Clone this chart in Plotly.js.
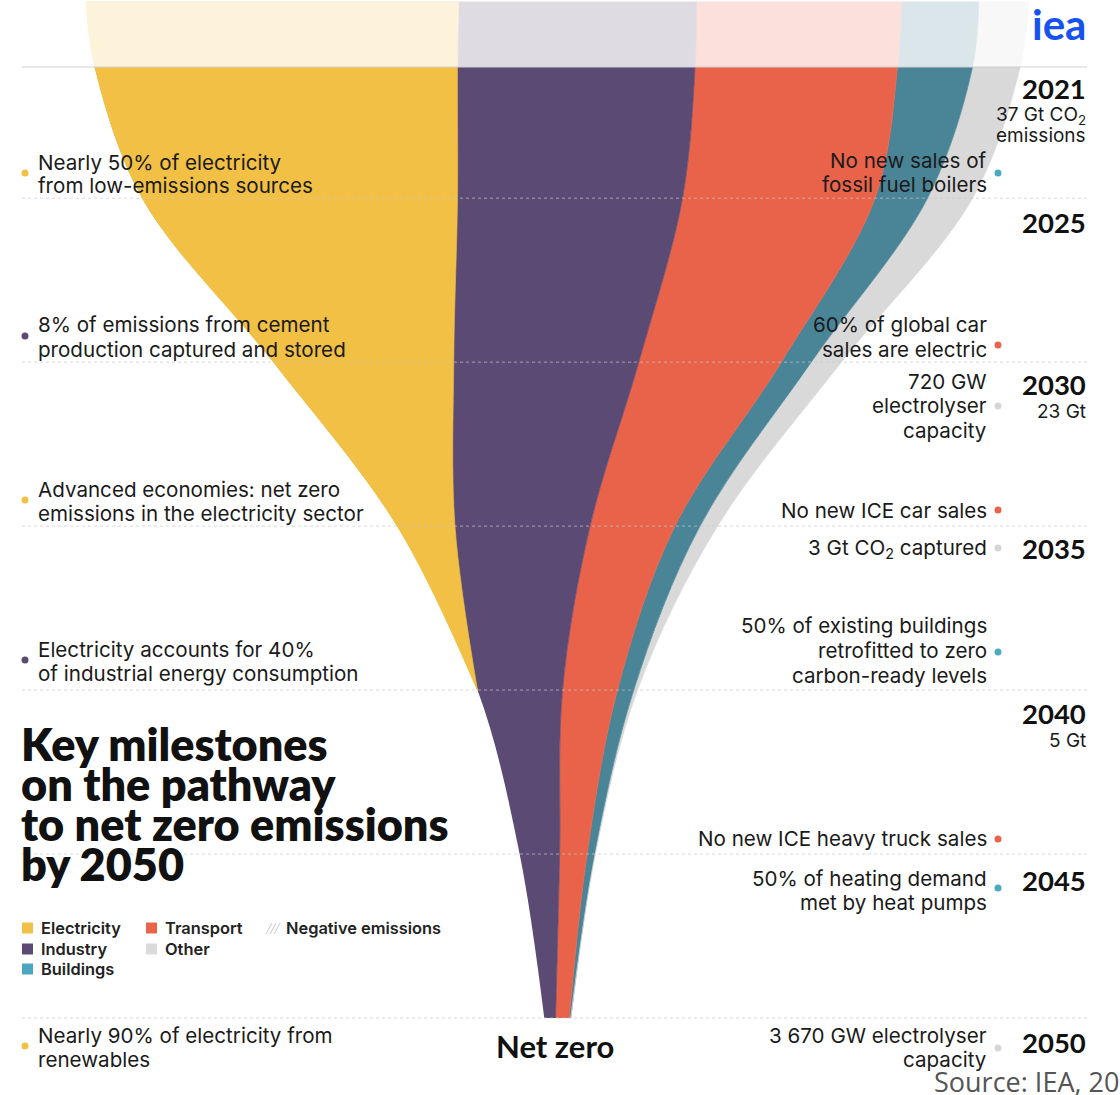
<!DOCTYPE html>
<html><head><meta charset="utf-8">
<script src="https://cdn.plot.ly/plotly-3.0.1.min.js"></script>
<style>html,body{margin:0;padding:0;background:#fff;overflow:hidden}#chart{width:1120px;height:1095px}</style>
</head><body><div id="chart"></div>
<script>
// ---------- DATA (Gt CO2 by sector) ----------
const years       = [2019, 2021, 2025, 2030, 2035, 2040, 2045, 2050];
const electricity = [14.9, 14.5, 12.6, 7.2, 2.3, 0, 0, 0];
const industry    = [9.5, 9.5, 9.0, 7.4, 5.4, 3.4, 1.6, 0.45];
const transport   = [8.2, 8.1, 7.7, 5.7, 3.4, 2.2, 1.1, 0.55];
const buildings   = [3.1, 3.0, 2.1, 1.2, 1.0, 0.65, 0.3, 0.06];
const other       = [2.0, 1.9, 1.8, 1.2, 0.7, 0.15, 0.03, 0];

const sectorNames = ['Electricity', 'Industry', 'Transport', 'Buildings', 'Other'];
const milestoneYears = ['2021', '2025', '2030', '2035', '2040', '2045', '2050'];
const yearNotes = {'2021': ['37 Gt CO<sub>2</sub>', 'emissions'], '2030': ['23 Gt'], '2040': ['5 Gt']};

const leftMilestones = [
  ['Nearly 50% of electricity', 'from low-emissions sources'],
  ['8% of emissions from cement', 'production captured and stored'],
  ['Advanced economies: net zero', 'emissions in the electricity sector'],
  ['Electricity accounts for 40%', 'of industrial energy consumption'],
  ['Nearly 90% of electricity from', 'renewables']
];
const leftSectors = ['Electricity', 'Industry', 'Electricity', 'Industry', 'Electricity'];
const rightMilestones = [
  ['No new sales of', 'fossil fuel boilers'],
  ['60% of global car', 'sales are electric'],
  ['720 GW', 'electrolyser', 'capacity'],
  ['No new ICE car sales'],
  ['3 Gt CO<sub>2</sub> captured'],
  ['50% of existing buildings', 'retrofitted to zero', 'carbon-ready levels'],
  ['No new ICE heavy truck sales'],
  ['50% of heating demand', 'met by heat pumps'],
  ['3 670 GW electrolyser', 'capacity']
];
const rightSectors = ['Buildings', 'Transport', 'Other', 'Transport', 'Other', 'Buildings', 'Transport', 'Buildings', 'Other'];
const titleLines = ['Key milestones', 'on the pathway', 'to net zero emissions', 'by 2050'];

// ---------- STYLE / LAYOUT ----------
const W = 1120, H = 1095;
const streamColors = {Electricity: '#F2C045', Industry: '#5B4A74', Transport: '#E8634A', Buildings: '#4A8497', Other: '#D9D9D9'};
const dotColors = {Electricity: '#F2C045', Industry: '#5B4A74', Transport: '#E8634A', Buildings: '#4BA9C2', Other: '#D6D6D6'};
const legendColors = {Electricity: '#F2C045', Industry: '#5B4A74', Transport: '#E8634A', Buildings: '#4BA6C0', Other: '#DADADA'};
const BODY = 'Inter, "Open Sans", sans-serif';
const HEAD = 'Lato, "Open Sans", sans-serif';

// cumulative boundaries, centred (silhouette) baseline
const series = [electricity, industry, transport, buildings, other];
const total = years.map((_, i) => series.reduce((s, a) => s + a[i], 0));
const bounds = [total.map(t => -t / 2)];
series.forEach((s, k) => bounds.push(bounds[k].map((c, i) => c + s[i])));

function edge(x, y, fillcol, linecol, lw) {
  const t = {x, y, mode: 'lines', hoverinfo: 'skip', showlegend: false,
    line: {width: lw, shape: 'spline', color: linecol}};
  if (fillcol) { t.fill = 'tonextx'; t.fillcolor = fillcol; }
  return t;
}
const traces = [];
// Industry is filled from the outer left edge so the electricity tip closes cleanly on top of it
traces.push(edge(bounds[0], years, null, 'rgba(0,0,0,0)', 0));
traces.push(edge(bounds[2], years, streamColors.Industry, streamColors.Industry, 0.8));
traces.push(edge(bounds[3], years, streamColors.Transport, streamColors.Transport, 0.8));
traces.push(edge(bounds[4], years, streamColors.Buildings, streamColors.Buildings, 0.8));
traces.push(edge(bounds[5], years, streamColors.Other, streamColors.Other, 0.8));
const eEnd = electricity.findIndex((v, i) => i > 0 && v === 0) + 1;
traces.push(edge(bounds[0].slice(0, eEnd), years.slice(0, eEnd), null, streamColors.Electricity, 1.2));
traces.push(edge(bounds[1].slice(0, eEnd), years.slice(0, eEnd), streamColors.Electricity, streamColors.Electricity, 0.6));

const px = v => v / W, py = v => 1 - v / H;
const annotations = [], shapes = [];
function txt(text, x, y, o = {}) {
  annotations.push({xref: 'paper', yref: 'paper', x: px(x), y: py(y), text, showarrow: false,
    xanchor: o.xa || 'left', yanchor: 'middle', borderpad: 0,
    font: {family: o.family || BODY, size: o.size || 20, color: o.color || '#1a1a1a', weight: o.weight || 400}});
}
function dot(x, y, color, r = 3.5) {
  shapes.push({type: 'circle', xref: 'paper', yref: 'paper', x0: px(x - r), x1: px(x + r), y0: py(y + r), y1: py(y - r),
    fillcolor: color, line: {width: 0}, layer: 'above'});
}

// pale top region above 2021
shapes.push({type: 'rect', xref: 'paper', yref: 'y', x0: 0, x1: 1, y0: 2015, y1: 2021,
  fillcolor: 'rgba(255,255,255,0.80)', line: {width: 0}, layer: 'above'});
// year rows
milestoneYears.forEach((yr, i) => {
  shapes.push({type: 'line', xref: 'paper', yref: 'y', x0: px(22), x1: px(1087), y0: +yr, y1: +yr,
    line: {color: i === 0 ? '#cfcfcf' : 'rgba(200,200,200,0.7)', width: 1, dash: i === 0 ? 'solid' : 'dot'}, layer: 'above'});
});

// year labels
const yearPos = {'2021': 88, '2025': 222, '2030': 385, '2035': 548, '2040': 713, '2045': 880, '2050': 1042};
milestoneYears.forEach(yr => {
  txt(yr, 1087, yearPos[yr], {xa: 'right', size: 27.5, weight: 700, color: '#111', family: HEAD});
  (yearNotes[yr] || []).forEach((l, j) => txt(l, 1087, yearPos[yr] + 27 + j * 21, {xa: 'right', size: 19}));
});

// left milestones
const leftY = [162, 325, 489, 649, 1035];
leftMilestones.forEach((lines, i) => {
  lines.forEach((l, j) => txt(l, 37, leftY[i] + j * 24, {size: 20.6}));
  dot(25, leftY[i] + 11, dotColors[leftSectors[i]]);
});
// right milestones
const rightY = [160, 325, 381, 510, 548, 626, 838, 878, 1035];
const rightDot = [173, 345, 406, 510, 548, 652, 839, 888, 1048];
rightMilestones.forEach((lines, i) => {
  lines.forEach((l, j) => txt(l, 988, rightY[i] + j * 24.5, {xa: 'right', size: 20.6}));
  dot(998, rightDot[i], dotColors[rightSectors[i]]);
});

// title
titleLines.forEach((l, j) => txt(l, 20, 744 + j * 40, {size: 45, weight: 800, color: '#111', family: HEAD}));

// Net zero
txt('Net zero', 555, 1046, {xa: 'center', size: 31, weight: 700, color: '#111', family: HEAD});

// legend
const legendItems = [['Electricity', 22, 928], ['Industry', 22, 949], ['Buildings', 22, 969], ['Transport', 146, 928], ['Other', 146, 949]];
legendItems.forEach(([name, x, y]) => {
  shapes.push({type: 'rect', xref: 'paper', yref: 'paper', x0: px(x), x1: px(x + 11), y0: py(y + 5.5), y1: py(y - 5.5),
    fillcolor: legendColors[name], line: {width: 0}});
  txt(name, x + 18, y, {size: 16.4, weight: 600, color: '#222'});
});
for (let k = 0; k < 3; k++) {
  shapes.push({type: 'line', xref: 'paper', yref: 'paper', x0: px(266 + k * 4), y0: py(934), x1: px(272 + k * 4), y1: py(923),
    line: {color: '#c8c8c8', width: 1}});
}
txt('Negative emissions', 285, 928, {size: 16.4, weight: 600, color: '#222'});

// logo + source
txt('iea', 1087, 24, {xa: 'right', size: 42, weight: 700, color: '#1652F0', family: HEAD});
txt('Source: IEA, 2022', 933, 1081, {family: '"Open Sans", sans-serif', size: 27, color: '#555'});

const layout = {
  width: W, height: H, margin: {l: 0, r: 0, t: 0, b: 0},
  paper_bgcolor: '#fff', plot_bgcolor: '#fff', showlegend: false,
  xaxis: {range: [-22.3, 22.5], visible: false, fixedrange: true},
  yaxis: {range: [2052.348, 2018.957], visible: false, fixedrange: true},
  shapes, annotations
};
Plotly.newPlot('chart', traces, layout, {displayModeBar: false, staticPlot: true});
</script></body></html>
